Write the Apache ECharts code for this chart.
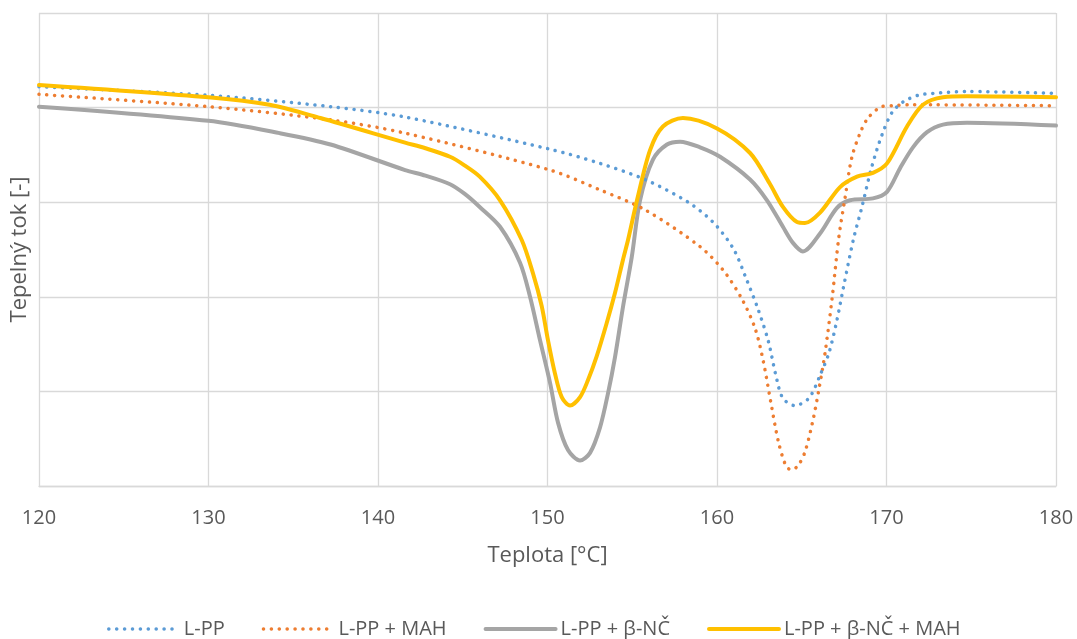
<!DOCTYPE html>
<html>
<head>
<meta charset="utf-8">
<script src="https://cdn.jsdelivr.net/npm/echarts@6/dist/echarts.min.js"></script>
<style>html,body{margin:0;padding:0;background:#fff}#c{width:1077px;height:639px}</style>
</head>
<body>
<div id="c"></div>
<script>
const seriesNames = ['L-PP', 'L-PP + MAH', 'L-PP + β-NČ', 'L-PP + β-NČ + MAH'];
const xTicks = [120, 130, 140, 150, 160, 170, 180];

const lppT = [120, 130, 137.2, 141.6, 150.15, 153.1, 155.75, 158.3, 159.76, 160.96, 161.75, 162.44, 163.03, 163.46, 163.88, 164.6, 165.43, 166.08, 166.61, 167.06, 167.45, 168.04, 168.55, 169.14, 169.73, 170.33, 170.98, 171.86, 172.74, 174.75, 180];
const lppV = [4.22, 4.13, 4.01, 3.90, 3.56, 3.41, 3.24, 3.00, 2.79, 2.51, 2.18, 1.86, 1.53, 1.18, 0.93, 0.85, 0.93, 1.17, 1.41, 1.74, 2.09, 2.60, 2.95, 3.38, 3.71, 3.95, 4.06, 4.13, 4.15, 4.17, 4.15];

const mahT = [120, 130, 137.2, 141.6, 150.15, 153.1, 155.75, 159.0, 160.37, 161.46, 162.24, 162.73, 163.17, 163.62, 164.05, 164.37, 164.76, 165.19, 165.68, 166.04, 166.37, 166.8, 167.18, 167.55, 167.95, 168.44, 168.91, 169.72, 170.38, 171.39, 180];
const mahV = [4.14, 4.01, 3.87, 3.73, 3.34, 3.13, 2.92, 2.53, 2.28, 1.98, 1.67, 1.32, 0.89, 0.47, 0.22, 0.17, 0.21, 0.36, 0.71, 1.05, 1.40, 2.00, 2.62, 3.04, 3.47, 3.73, 3.89, 4.01, 4.02, 4.03, 4.02];

const ncT = [120, 130, 134.2, 137.2, 141.6, 142.8, 144.25, 145.1, 146.0, 147.2, 148.38, 148.97, 149.56, 150.15, 150.62, 151.21, 151.92, 152.51, 153.1, 153.57, 153.98, 154.45, 154.97, 155.46, 156.22, 157.05, 157.82, 159.0, 160.18, 161.95, 162.95, 163.89, 164.48, 165.07, 166.08, 167.08, 167.85, 169.2, 170.03, 170.8, 171.56, 172.39, 173.33, 174.75, 180];
const ncV = [4.01, 3.86, 3.73, 3.61, 3.34, 3.28, 3.19, 3.09, 2.95, 2.74, 2.36, 2.00, 1.54, 1.09, 0.67, 0.38, 0.27, 0.35, 0.62, 0.98, 1.36, 1.89, 2.42, 3.02, 3.45, 3.61, 3.64, 3.58, 3.48, 3.24, 3.02, 2.74, 2.57, 2.48, 2.67, 2.94, 3.02, 3.04, 3.11, 3.36, 3.58, 3.74, 3.82, 3.84, 3.81];

const ncMahT = [120, 130, 133.6, 136.6, 141.6, 142.8, 144.25, 145.1, 146.0, 147.2, 148.48, 149.14, 149.66, 150.03, 150.44, 150.84, 151.33, 151.92, 152.39, 152.9, 153.49, 153.98, 154.45, 154.75, 155.28, 156.05, 156.81, 157.99, 160.0, 161.95, 163.1, 163.89, 164.72, 165.19, 166.08, 167.26, 168.26, 169.2, 170.03, 171.21, 172.15, 173.33, 174.75, 180];
const ncMahV = [4.24, 4.11, 4.03, 3.89, 3.63, 3.57, 3.48, 3.39, 3.27, 3.02, 2.60, 2.25, 1.90, 1.54, 1.19, 0.94, 0.85, 0.94, 1.12, 1.37, 1.72, 2.04, 2.39, 2.60, 3.02, 3.55, 3.80, 3.89, 3.78, 3.52, 3.20, 2.95, 2.79, 2.78, 2.89, 3.16, 3.27, 3.31, 3.41, 3.80, 4.03, 4.11, 4.12, 4.11];

const colors = ['#5B9BD5', '#ED7D31', '#A5A5A5', '#FFC000'];
const zip = (t, v) => t.map((x, i) => [x, v[i]]);
const allData = [zip(lppT, lppV), zip(mahT, mahV), zip(ncT, ncV), zip(ncMahT, ncMahV)];
const FONT = 'Open Sans';
const lineStyles = colors.map((c, i) => i < 2
  ? { color: c, width: 3.5, type: [0.1, 7.8], cap: 'round' }
  : { color: c, width: 4, cap: 'round' });

const chart = echarts.init(document.getElementById('c'));
chart.setOption({
  animation: false,
  color: colors,
  grid: { left: 39, right: 21, top: 13, bottom: 153 },
  xAxis: {
    type: 'value', min: 120, max: 180, interval: 10,
    name: 'Teplota [°C]', nameLocation: 'middle', nameGap: 59,
    nameTextStyle: { fontFamily: FONT, fontSize: 22, color: '#595959' },
    axisLine: { show: true, lineStyle: { color: '#D9D9D9', width: 1.3 } },
    axisTick: { show: false },
    axisLabel: { fontFamily: FONT, fontSize: 20, color: '#595959', margin: 22,
      formatter: v => xTicks.includes(v) ? String(v) : '' },
    splitLine: { show: true, lineStyle: { color: '#D9D9D9', width: 1.3 } }
  },
  yAxis: {
    type: 'value', min: 0, max: 5, interval: 1,
    name: 'Tepelný tok [-]', nameLocation: 'middle', nameGap: 8,
    nameTextStyle: { fontFamily: FONT, fontSize: 22, color: '#595959' },
    axisLine: { show: false }, axisTick: { show: false }, axisLabel: { show: false },
    splitLine: { show: true, lineStyle: { color: '#D9D9D9', width: 1.3 } }
  },
  legend: {
    top: 612, left: 102, itemWidth: 70, itemHeight: 14, itemGap: 37,
    itemStyle: { opacity: 0 },
    textStyle: { fontFamily: FONT, fontSize: 20, color: '#595959', lineHeight: 24 },
    data: seriesNames.map((n, i) => ({ name: n, lineStyle: lineStyles[i] }))
  },
  series: seriesNames.map((n, i) => ({
    name: n, type: 'line', data: allData[i], smooth: 0.3, symbol: 'none',
    lineStyle: lineStyles[i],
    itemStyle: { color: colors[i] },
    z: [3, 2, 1, 4][i]
  }))
});
</script>
</body>
</html>
